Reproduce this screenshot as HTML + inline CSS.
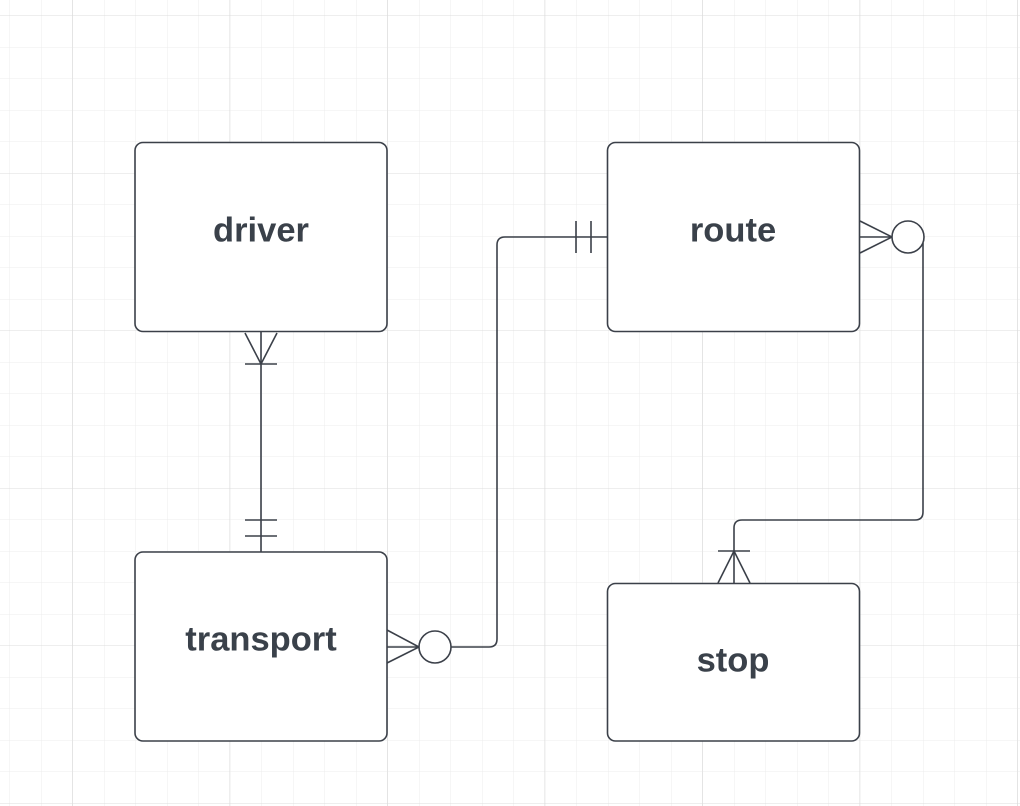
<!DOCTYPE html>
<html><head><style>html,body{margin:0;padding:0;background:#fff}svg{display:block}</style></head>
<body>
<svg width="1020" height="806" viewBox="0 0 1020 806" xmlns="http://www.w3.org/2000/svg">
<defs>
<pattern id="minor" x="9.5" y="15.5" width="31.5" height="31.5" patternUnits="userSpaceOnUse">
<path d="M0 0V31.5M0 0H31.5" stroke="#ececec" stroke-width="1" fill="none"/>
</pattern>
<pattern id="major" x="72" y="15.5" width="157.5" height="157.5" patternUnits="userSpaceOnUse">
<path d="M0 0V157.5M0 0H157.5" stroke="#dcdcdc" stroke-width="1" fill="none"/>
</pattern>
</defs>
<rect width="1020" height="806" fill="url(#minor)"/>
<rect width="1020" height="806" fill="url(#major)"/>
<g fill="#fff" stroke="#3b4049" stroke-width="1.6">
<rect x="135" y="142.5" width="252" height="189" rx="8"/>
<rect x="607.5" y="142.5" width="252" height="189" rx="8"/>
<rect x="135" y="552" width="252" height="189" rx="8"/>
<rect x="607.5" y="583.5" width="252" height="157.5" rx="8"/>
</g>
<g fill="none" stroke="#3b4049" stroke-width="1.6">
<path d="M261 331.5V552"/>
<path d="M245 333L261 364L277 333M245 364H277"/>
<path d="M245 520H277M245 536H277"/>
<path d="M387 647H419M387 630L419 647L387 663"/>
<circle cx="435" cy="647" r="16" fill="#fff"/>
<path d="M451 647H489Q497 647 497 639V245Q497 237 505 237H607.5"/>
<path d="M576 221V253M591 221V253"/>
<path d="M860 237H892M860 221L892 237L860 253"/>
<circle cx="908" cy="237" r="16" fill="#fff"/>
<path d="M923 243V512Q923 520 915 520H742Q734 520 734 528V583.5"/>
<path d="M718 583L734 551L750 583M718 551H750"/>
</g>
<g font-family="Liberation Sans, sans-serif" font-weight="bold" font-size="34.5" fill="#3a414a" text-anchor="middle">
<text x="261" y="241.5">driver</text>
<text x="733" y="241.5">route</text>
<text x="261" y="650.5">transport</text>
<text x="733" y="671.5">stop</text>
</g>
</svg>
</body></html>
